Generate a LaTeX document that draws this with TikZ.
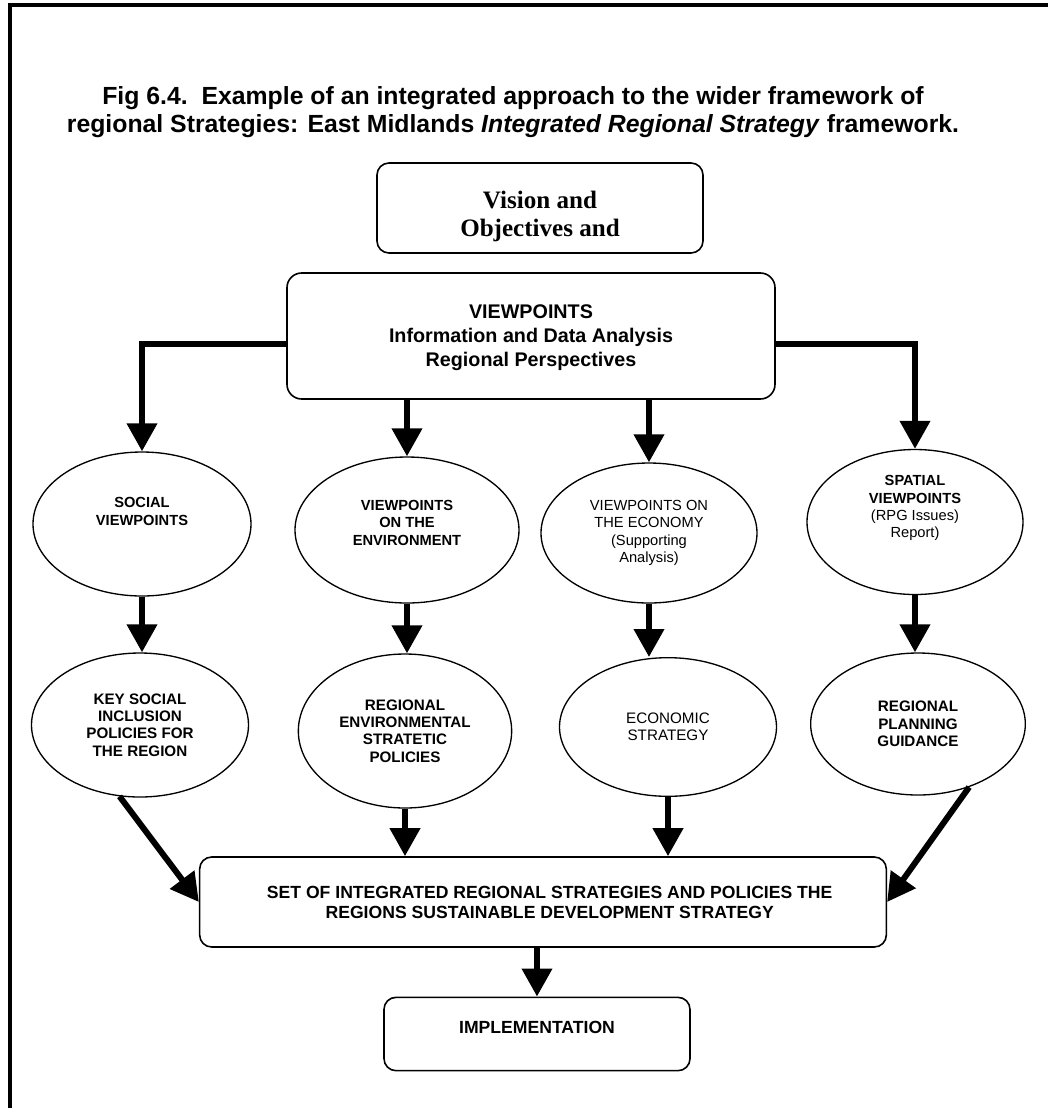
\documentclass[tikz,border=0pt]{standalone}
\usepackage{fontspec}
\setmainfont{Liberation Sans}
\newfontfamily\timesfont{Liberation Serif}
\usetikzlibrary{arrows.meta,shapes.geometric,positioning}
\tikzset{
      roundbox/.style = {draw, rounded corners=9pt, line width=1.2pt, align=center, inner sep=2pt},
      viewnode/.style = {draw, ellipse, line width=1pt, align=center, inner sep=0pt,
                         font=\fontsize{11}{13}\selectfont},
      flow/.style     = {black, line width=4.5pt, -{Triangle[width=22pt,length=21pt]}},
      frameline/.style = {line width=3pt},
    }

\begin{document}
\begin{tikzpicture}[x=0.75pt,y=-0.75pt]
        \useasboundingbox (0,0) rectangle (1048,1108);
        \draw[frameline] (10,1120) -- (10,5) -- (1060,5);
        \node [align=center, font=\bfseries\fontsize{18.6}{21}\selectfont] (title) at (513,112)
              {Fig 6.4.\ \ Example of an integrated approach to the wider framework of\\
               regional Strategies: East Midlands \textit{Integrated Regional Strategy} framework.};
        \node [roundbox, minimum width=244.5pt, minimum height=67.5pt,
               font=\timesfont\bfseries\fontsize{18.8}{21}\selectfont] (vision) at (540,208)
              {\rule{0pt}{26pt}Vision and\\Objectives and};
        \node [roundbox, rounded corners=11pt, minimum width=366pt, minimum height=94.5pt,
               font=\bfseries\fontsize{14.8}{18}\selectfont] (vp) at (531,336)
              {\rule{0pt}{13pt}VIEWPOINTS\\Information and Data Analysis\\Regional Perspectives};
        \node [viewnode, minimum width=163.5pt, minimum height=108pt, font=\bfseries\fontsize{11}{13}\selectfont]
              (socview) at (142,524) {SOCIAL\\VIEWPOINTS\\[6pt]\mbox{}};
        \node [viewnode, minimum width=168pt, minimum height=109.5pt, font=\bfseries\fontsize{11}{13}\selectfont]
              (envview) at (407,530) {VIEWPOINTS\\ON THE\\ENVIRONMENT\\[-2pt]\mbox{}};
        \node [viewnode, minimum width=162pt, minimum height=105pt] (ecoview) at (649,533)
              {VIEWPOINTS ON\\THE ECONOMY\\(Supporting\\Analysis)};
        \node [viewnode, minimum width=162pt, minimum height=108.75pt] (spaceview) at (915,522)
              {\textbf{SPATIAL}\\\textbf{VIEWPOINTS}\\(RPG Issues)\\Report)\\[10pt]\mbox{}};
        \node [viewnode, minimum width=162.75pt, minimum height=108pt, font=\bfseries\fontsize{11.4}{13}\selectfont]
              (socpol) at (140,725) {KEY SOCIAL\\INCLUSION\\POLICIES FOR\\THE REGION};
        \node [viewnode, minimum width=160pt, minimum height=115.5pt, font=\bfseries\fontsize{11.4}{13}\selectfont]
              (envpol) at (405,731) {REGIONAL\\ENVIRONMENTAL\\STRATETIC\\POLICIES};
        \node [viewnode, minimum width=162.75pt, minimum height=104pt, font=\fontsize{11.4}{13}\selectfont]
              (ecostrat) at (668,727) {ECONOMIC\\STRATEGY};
        \node [viewnode, minimum width=161pt, minimum height=106.5pt, font=\bfseries\fontsize{11.4}{13}\selectfont]
              (rpg) at (918,724) {REGIONAL\\PLANNING\\GUIDANCE};
        \node [roundbox, minimum width=515pt, minimum height=67.5pt,
               font=\bfseries\fontsize{13.2}{15}\selectfont] (set) at (543,902)
              {\hspace*{10pt}SET OF INTEGRATED REGIONAL STRATEGIES AND POLICIES THE\\
               \hspace*{10pt}REGIONS SUSTAINABLE DEVELOPMENT STRATEGY};
        \node [roundbox, minimum width=229.5pt, minimum height=55pt,
               font=\bfseries\fontsize{13.2}{16}\selectfont] (impl) at (537,1034)
              {IMPLEMENTATION\\[-5.5pt]\mbox{}};
        \draw[flow] ([yshift=-6pt]vp.west) -| (socview.north);
        \draw[flow] ([yshift=-6pt]vp.east) -| (spaceview.north);
        \draw[flow] (vp.south -| envview.north) -- (envview.north);
        \draw[flow] (vp.south -| ecoview.north) -- (ecoview.north);
        \draw[flow] (socview.south) -- (socview.south |- socpol.north);
        \draw[flow] (envview.south) -- (envview.south |- envpol.north);
        \draw[flow] (ecoview.south) -- (ecoview.south |- ecostrat.north);
        \draw[flow] (spaceview.south) -- (spaceview.south |- rpg.north);
        \draw[flow] (socpol.254) -- (set.west);
        \draw[flow] (envpol.south) -- (envpol.south |- set.north);
        \draw[flow] (ecostrat.south) -- (ecostrat.south |- set.north);
        \draw[flow] (rpg.-51) -- (set.east);
        \draw[flow] (set.south -| impl.north) -- (impl.north);
    \end{tikzpicture}
\end{document}
